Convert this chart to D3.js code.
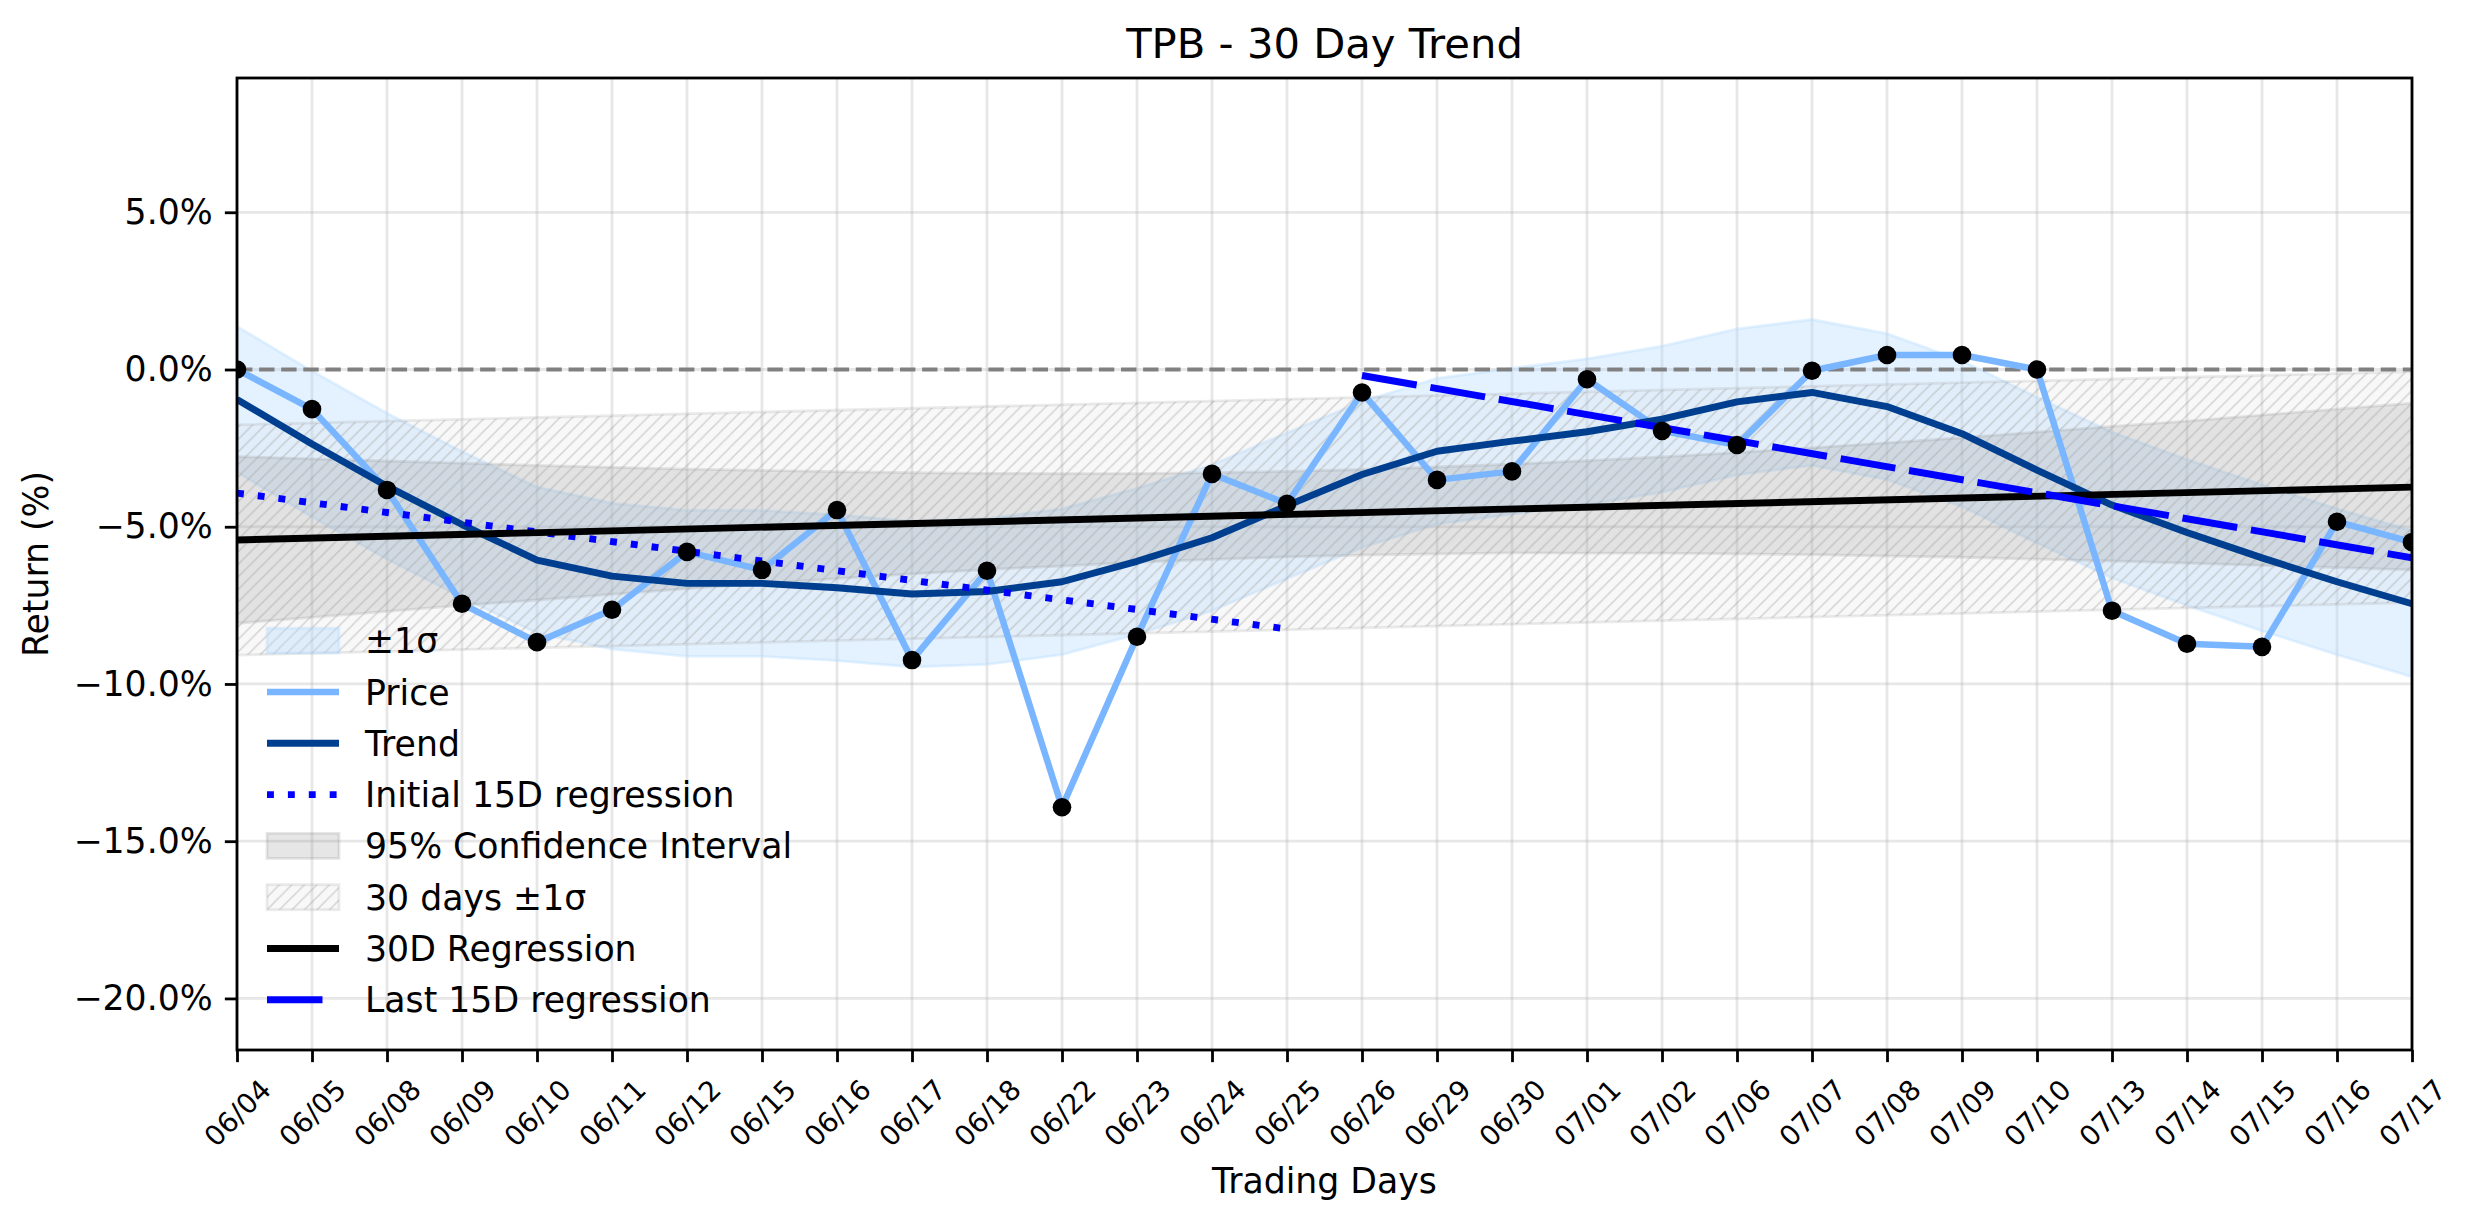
<!DOCTYPE html>
<html>
<head>
<meta charset="utf-8">
<script src="https://cdn.jsdelivr.net/npm/d3@7"></script>
<style>
  body { margin: 0; background: #fff; }
  text { font-family: "DejaVu Sans", sans-serif; }
</style>
</head>
<body>
<div id="chart"></div>
<script>
// trading days on the x axis
const dates = ["06/04","06/05","06/08","06/09","06/10","06/11","06/12","06/15","06/16","06/17",
  "06/18","06/22","06/23","06/24","06/25","06/26","06/29","06/30","07/01","07/02",
  "07/06","07/07","07/08","07/09","07/10","07/13","07/14","07/15","07/16","07/17"];

// cumulative return, %
const price = [0.00, -1.26, -3.83, -7.45, -8.67, -7.64, -5.80, -6.37, -4.47, -9.24,
  -6.40, -13.92, -8.50, -3.32, -4.27, -0.73, -3.51, -3.24, -0.31, -1.95,
  -2.40, -0.04, 0.46, 0.46, 0.00, -7.67, -8.72, -8.82, -4.84, -5.49];

const trend = [-0.95, -2.37, -3.71, -4.93, -6.06, -6.57, -6.80, -6.80, -6.94, -7.14,
  -7.06, -6.75, -6.10, -5.35, -4.33, -3.34, -2.60, -2.28, -1.98, -1.58,
  -1.03, -0.73, -1.18, -2.04, -3.20, -4.31, -5.18, -5.99, -6.75, -7.45];

// +-1 sigma band round the trend
const sigmaUpper = [1.37, -0.05, -1.39, -2.61, -3.74, -4.25, -4.48, -4.48, -4.62, -4.82,
  -4.74, -4.43, -3.78, -3.03, -2.01, -1.02, -0.28, 0.04, 0.34, 0.74,
  1.29, 1.59, 1.14, 0.28, -0.88, -1.99, -2.86, -3.67, -4.43, -5.13];
const sigmaLower = [-3.27, -4.69, -6.03, -7.25, -8.38, -8.89, -9.12, -9.12, -9.26, -9.46,
  -9.38, -9.07, -8.42, -7.67, -6.65, -5.66, -4.92, -4.60, -4.30, -3.90,
  -3.35, -3.05, -3.50, -4.36, -5.52, -6.63, -7.50, -8.31, -9.07, -9.77];

// 95% confidence interval of the 30D regression
const ciUpper = [-2.77, -2.84, -2.91, -2.98, -3.05, -3.11, -3.17, -3.21, -3.25, -3.28,
  -3.30, -3.31, -3.31, -3.28, -3.24, -3.18, -3.10, -3.01, -2.90, -2.78,
  -2.64, -2.49, -2.33, -2.17, -1.99, -1.81, -1.64, -1.45, -1.26, -1.07];
const ciLower = [-8.07, -7.88, -7.69, -7.50, -7.33, -7.15, -6.97, -6.81, -6.65, -6.50,
  -6.36, -6.25, -6.13, -6.04, -5.96, -5.90, -5.86, -5.83, -5.84, -5.84,
  -5.86, -5.89, -5.93, -5.97, -6.03, -6.09, -6.16, -6.23, -6.30, -6.37];

// straight lines: value at first and last day of each
const band30Days = [0, 29];
const band30Upper = [-1.76, -0.07];
const band30Lower = [-9.08, -7.41];
const reg30 = [-5.42, -3.74];
const firstDays = [0, 14];
const regFirst = [-3.93, -8.25];
const lastDays = [15, 29];
const regLast = [-0.19, -5.99];

const yTicks = [-20, -15, -10, -5, 0, 5];

const W = 2474, H = 1224;
const margin = { top: 78, right: 62, bottom: 174, left: 237 },
    width = W - margin.left - margin.right,
    height = H - margin.top - margin.bottom;

const svg = d3.select("#chart").append("svg")
    .attr("width", W).attr("height", H)
    .style("background", "#fff");

const defs = svg.append("defs");
const hatch = defs.append("pattern")
    .attr("id", "hatch")
    .attr("patternUnits", "userSpaceOnUse")
    .attr("width", 12.5).attr("height", 12.5);
hatch.append("path")
    .attr("d", "M0,12.5L12.5,0M-3,3L3,-3M9.5,15.5L15.5,9.5")
    .attr("stroke", "#999").attr("stroke-opacity", 0.4)
    .attr("stroke-width", 1.5);

const g = svg.append("g").attr("transform", `translate(${margin.left},${margin.top})`);

const x = d3.scaleLinear().domain([0, 29]).range([0, width]);
const y = d3.scaleLinear().domain([-21.64, 9.27]).range([height, 0]);

// grid
g.append("g").selectAll("line").data(d3.range(dates.length)).enter().append("line")
    .attr("x1", d => x(d)).attr("x2", d => x(d))
    .attr("y1", 0).attr("y2", height)
    .attr("stroke", "#b0b0b0").attr("stroke-opacity", 0.3).attr("stroke-width", 2.8);
g.append("g").selectAll("line").data(yTicks).enter().append("line")
    .attr("x1", 0).attr("x2", width)
    .attr("y1", d => y(d)).attr("y2", d => y(d))
    .attr("stroke", "#b0b0b0").attr("stroke-opacity", 0.3).attr("stroke-width", 2.8);

const clip = defs.append("clipPath").attr("id", "plotclip");
clip.append("rect").attr("width", width).attr("height", height);
const plot = g.append("g").attr("clip-path", "url(#plotclip)");

const area = (lo, hi) => d3.area()
    .x((d, i) => x(i))
    .y0((d, i) => y(lo[i]))
    .y1((d, i) => y(hi[i]));

// bands first
plot.append("path")
    .datum(trend)
    .attr("d", area(sigmaLower, sigmaUpper))
    .attr("fill", "#b3d9ff").attr("fill-opacity", 0.35)
    .attr("stroke", "#b3d9ff").attr("stroke-opacity", 0.35).attr("stroke-width", 2.8);

plot.append("path")
    .datum(ciUpper)
    .attr("d", area(ciLower, ciUpper))
    .attr("fill", "#808080").attr("fill-opacity", 0.2)
    .attr("stroke", "#808080").attr("stroke-opacity", 0.2).attr("stroke-width", 2.8);

const band30Area = d3.area()
    .x((d, i) => x(band30Days[i]))
    .y0((d, i) => y(band30Lower[i]))
    .y1((d, i) => y(band30Upper[i]));
plot.append("path").datum(band30Upper)
    .attr("d", band30Area)
    .attr("fill", "#d3d3d3").attr("fill-opacity", 0.15)
    .attr("stroke", "#999").attr("stroke-opacity", 0.2).attr("stroke-width", 2.8);
plot.append("path").datum(band30Upper)
    .attr("d", band30Area)
    .attr("fill", "url(#hatch)");

// zero line
plot.append("line")
    .attr("x1", 0).attr("x2", width)
    .attr("y1", y(0)).attr("y2", y(0))
    .attr("stroke", "#808080").attr("stroke-width", 4.2)
    .attr("stroke-dasharray", "15.4,6.7");

const line = d3.line().x((d, i) => x(i)).y(d => y(d));
const segLine = days => d3.line().x((d, i) => x(days[i])).y(d => y(d));

plot.append("path").datum(price)
    .attr("d", line).attr("fill", "none")
    .attr("stroke", "#7ab6ff").attr("stroke-width", 6.5).attr("stroke-linejoin", "round");

plot.append("path").datum(trend)
    .attr("d", line).attr("fill", "none")
    .attr("stroke", "#003f8f").attr("stroke-width", 6.9).attr("stroke-linejoin", "round");

plot.append("path").datum(regFirst)
    .attr("d", segLine(firstDays)).attr("fill", "none")
    .attr("stroke", "#0000ff").attr("stroke-width", 6.9)
    .attr("stroke-dasharray", "6.9,14");

plot.append("path").datum(reg30)
    .attr("d", segLine(band30Days)).attr("fill", "none")
    .attr("stroke", "#000").attr("stroke-width", 6.9);

plot.append("path").datum(regLast)
    .attr("d", segLine(lastDays)).attr("fill", "none")
    .attr("stroke", "#0000ff").attr("stroke-width", 6.9)
    .attr("stroke-dasharray", "55.5,13.9");

plot.selectAll("circle.pt").data(price).enter().append("circle")
    .attr("class", "pt")
    .attr("cx", (d, i) => x(i)).attr("cy", d => y(d))
    .attr("r", 9.3).attr("fill", "#000");

// frame
g.append("rect").attr("width", width).attr("height", height)
    .attr("fill", "none").attr("stroke", "#000").attr("stroke-width", 2.8);

// axes
const xAxis = g.append("g")
    .attr("transform", `translate(0,${height})`)
    .call(d3.axisBottom(x).tickValues(d3.range(dates.length))
        .tickFormat(i => dates[i]).tickSize(12.15).tickSizeOuter(0));
xAxis.select(".domain").remove();
xAxis.selectAll("line").attr("stroke-width", 2.8);
xAxis.selectAll("text")
    .attr("y", null).attr("dy", "0.35em")
    .attr("transform", "translate(0,63) rotate(-45)")
    .attr("text-anchor", "middle")
    .attr("font-size", 27.8).attr("font-family", "DejaVu Sans").attr("fill", "#000");

const yAxis = g.append("g")
    .call(d3.axisLeft(y).tickValues(yTicks)
        .tickFormat(d => d3.format(".1f")(d) + "%").tickSize(12.15).tickPadding(12.15).tickSizeOuter(0));
yAxis.select(".domain").remove();
yAxis.selectAll("line").attr("stroke-width", 2.8);
yAxis.selectAll("text")
    .attr("font-size", 34.7).attr("font-family", "DejaVu Sans").attr("fill", "#000");

// title and labels
svg.append("text")
    .attr("x", margin.left + width / 2).attr("y", 58)
    .attr("text-anchor", "middle").attr("font-size", 41.7)
    .text("TPB - 30 Day Trend");
svg.append("text")
    .attr("x", margin.left + width / 2).attr("y", 1193)
    .attr("text-anchor", "middle").attr("font-size", 34.7)
    .text("Trading Days");
svg.append("text")
    .attr("transform", `translate(48,${margin.top + height / 2}) rotate(-90)`)
    .attr("text-anchor", "middle").attr("font-size", 34.7)
    .text("Return (%)");

// legend
const legendItems = [
  { label: "±1σ", type: "patch", fill: "#b3d9ff", op: 0.35 },
  { label: "Price", type: "line", stroke: "#7ab6ff", w: 6.5 },
  { label: "Trend", type: "line", stroke: "#003f8f", w: 6.9 },
  { label: "Initial 15D regression", type: "line", stroke: "#0000ff", w: 6.9, dash: "6.9,14" },
  { label: "95% Confidence Interval", type: "patch", fill: "#808080", op: 0.2 },
  { label: "30 days ±1σ", type: "hatch" },
  { label: "30D Regression", type: "line", stroke: "#000", w: 6.9 },
  { label: "Last 15D regression", type: "line", stroke: "#0000ff", w: 6.9, dash: "55.5,40" }
];
const legend = svg.append("g").attr("transform", "translate(267,640.7)");
const row = legend.selectAll("g").data(legendItems).enter().append("g")
    .attr("transform", (d, i) => `translate(0,${i * 51.3})`);
row.each(function(d) {
  const r = d3.select(this);
  if (d.type === "line") {
    r.append("line").attr("x1", 0).attr("x2", 72).attr("y1", 0).attr("y2", 0)
      .attr("stroke", d.stroke).attr("stroke-width", d.w)
      .attr("stroke-dasharray", d.dash || null);
  } else if (d.type === "patch") {
    r.append("rect").attr("x", 0).attr("y", -12.5).attr("width", 72).attr("height", 25)
      .attr("fill", d.fill).attr("fill-opacity", d.op)
      .attr("stroke", d.fill).attr("stroke-opacity", d.op).attr("stroke-width", 2.8);
  } else {
    r.append("rect").attr("x", 0).attr("y", -12.5).attr("width", 72).attr("height", 25)
      .attr("fill", "#d3d3d3").attr("fill-opacity", 0.15)
      .attr("stroke", "#999").attr("stroke-opacity", 0.2).attr("stroke-width", 2.8);
    r.append("rect").attr("x", 0).attr("y", -12.5).attr("width", 72).attr("height", 25)
      .attr("fill", "url(#hatch)");
  }
  r.append("text").attr("x", 98).attr("y", 12.5)
    .attr("font-size", 34.7).text(d.label);
});
</script>
</body>
</html>
